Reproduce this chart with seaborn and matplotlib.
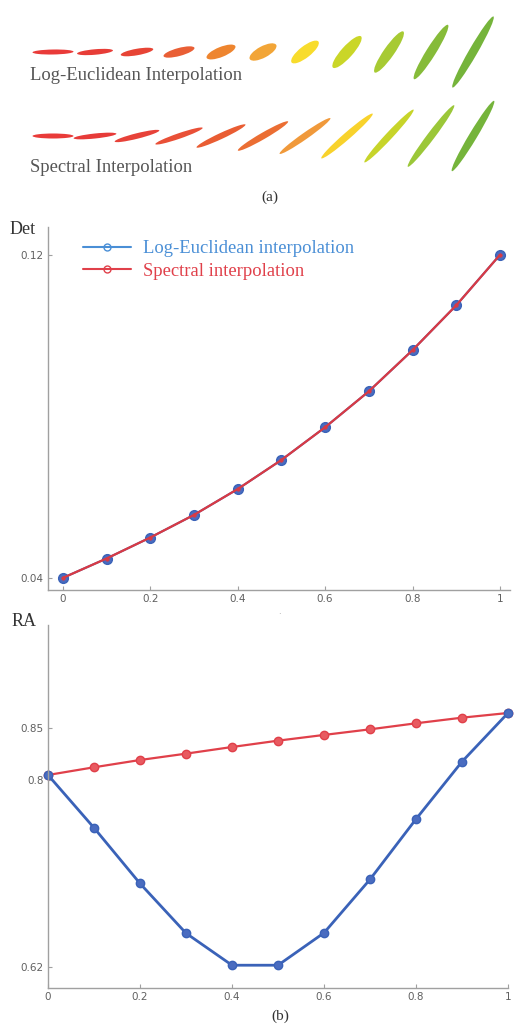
import numpy as np
import matplotlib
matplotlib.use("Agg")
import matplotlib.pyplot as plt
from matplotlib.patches import Ellipse
from matplotlib.lines import Line2D
import seaborn as sns

# ---------------- data ----------------
t = [0.0, 0.1, 0.2, 0.3, 0.4, 0.5, 0.6, 0.7, 0.8, 0.9, 1.0]

det_log_euclidean = [0.0400, 0.0448, 0.0500, 0.0556, 0.0620, 0.0692, 0.0773, 0.0862, 0.0964, 0.1075, 0.1200]
det_spectral      = [0.0400, 0.0448, 0.0500, 0.0556, 0.0620, 0.0692, 0.0773, 0.0862, 0.0964, 0.1075, 0.1200]

ra_log_euclidean = [0.8048, 0.7540, 0.7005, 0.6527, 0.6219, 0.6219, 0.6530, 0.7044, 0.7624, 0.8176, 0.8644]
ra_spectral      = [0.8048, 0.8122, 0.8192, 0.8253, 0.8317, 0.8378, 0.8433, 0.8487, 0.8545, 0.8599, 0.8644]

# ellipse glyphs (major / minor axis lengths, orientation in degrees)
le_major = [41, 36, 33, 32, 31, 30, 34, 42, 50, 64, 82]
le_minor = [5, 5.5, 6.5, 8, 10, 11.5, 11.5, 11.5, 10.5, 9.5, 8.5]
le_angle = [1, 5, 10, 15, 22, 28, 38, 48, 55, 58, 60]
le_colors = ['#e8302e', '#e6322c', '#e63a2a', '#e8562a', '#ee7e24', '#f2a02c',
             '#f8da20', '#c8d41c', '#a2c828', '#80b82e', '#6eb030']

sp_major = [41, 43, 46, 50, 54, 58, 62, 68, 72, 77, 82]
sp_minor = [5, 5, 5.5, 5.5, 6, 6.5, 6.5, 7, 7, 7.5, 8]
sp_angle = [0, 6, 14, 19, 25, 30, 35, 41, 47, 53, 59]
sp_colors = ['#e8302e', '#e6302e', '#e6382e', '#e8462c', '#e85428', '#ea6628',
             '#f09430', '#f8d020', '#c4d21e', '#96c42e', '#6eb030']

row_labels = ["Log-Euclidean Interpolation", "Spectral Interpolation"]
legend_labels = ["Log-Euclidean interpolation", "Spectral interpolation"]
x_ticks = [0, 0.2, 0.4, 0.6, 0.8, 1]
x_tick_labels = ["0", "0.2", "0.4", "0.6", "0.8", "1"]
det_ticks = [0.04, 0.12]
det_tick_labels = ["0.04", "0.12"]
ra_ticks = [0.62, 0.8, 0.85]
ra_tick_labels = ["0.62", "0.8", "0.85"]

# ---------------- style ----------------
sns.set_style("white")
plt.rcParams['font.family'] = ['DejaVu Sans']
SERIF = ['Liberation Serif', 'DejaVu Serif']

W, H = 514, 1025
fig = plt.figure(figsize=(W / 100, H / 100), dpi=100)

def fy(px):
    return 1 - px / H

# ---------------- panel (a): ellipses ----------------
top_h = 185
ax_e = fig.add_axes([0, fy(top_h), 1, top_h / H])
ppu = 420.0           # pixels per unit of t
x0_px = 53.0
ax_e.set_xlim(-x0_px / ppu, (W - x0_px) / ppu)
ax_e.set_ylim(0, top_h / ppu)
ax_e.axis('off')
row_y = [(top_h - 52) / ppu, (top_h - 136) / ppu]
for ry, majors, minors, angles, cols in [
        (row_y[0], le_major, le_minor, le_angle, le_colors),
        (row_y[1], sp_major, sp_minor, sp_angle, sp_colors)]:
    for ti, a, b, ang, c in zip(t, majors, minors, angles, cols):
        ax_e.add_patch(Ellipse((ti, ry), a / ppu, b / ppu, angle=ang,
                               facecolor=c, edgecolor='none', alpha=0.95))

fig.text(30 / W, fy(75), row_labels[0], family=SERIF, fontsize=13.4,
         color='#555555', ha='left', va='center')
fig.text(30 / W, fy(168), row_labels[1], family=SERIF, fontsize=13.4,
         color='#555555', ha='left', va='center')
fig.text(270 / W, fy(197), "(a)", family=SERIF, fontsize=11,
         color='#333333', ha='center', va='center')

# ---------------- panel (b) ----------------
BLUE = '#3a62b8'
BLUE_L = '#4a8fd6'
RED = '#d93a44'
RED_L = '#e0404a'
SPINE = '#a0a0a0'
TICKC = '#606060'

def style_axes(ax):
    for s in ['top', 'right']:
        ax.spines[s].set_visible(False)
    for s in ['left', 'bottom']:
        ax.spines[s].set_color(SPINE)
        ax.spines[s].set_linewidth(1.0)
    ax.tick_params(direction='in', length=3, width=0.8, color=SPINE,
                   labelsize=7.5, labelcolor=TICKC, pad=3,
                   left=True, bottom=True)

# Det axes
ax_d = fig.add_axes([48 / W, fy(590), (510 - 48) / W, (590 - 227) / H])
sns.lineplot(x=t, y=det_log_euclidean, ax=ax_d, color=BLUE, linewidth=1.5,
             marker='o', markersize=7, markerfacecolor='#4a6cc0',
             markeredgecolor=BLUE, markeredgewidth=1.0)
sns.lineplot(x=t, y=det_spectral, ax=ax_d, color=RED, linewidth=1.6,
             marker='o', markersize=2.5, markerfacecolor=RED,
             markeredgecolor=RED, markeredgewidth=0.5)
ax_d.set_xlim(-0.034, 1.023)
ax_d.set_ylim(0.037, 0.1269)
ax_d.set_xticks(x_ticks)
ax_d.set_xticklabels(x_tick_labels)
ax_d.set_yticks(det_ticks)
ax_d.set_yticklabels(det_tick_labels)
style_axes(ax_d)
ax_d.set_xlabel('.', fontsize=6, color='#999999', labelpad=2)
ax_d.set_ylabel('')
fig.text(10 / W, fy(229), "Det", family=SERIF, fontsize=13,
         color='#333333', ha='left', va='center')

handles = [Line2D([], [], color=BLUE_L, linewidth=1.5, marker='o',
                  markersize=5, markerfacecolor='none', markeredgecolor=BLUE_L),
           Line2D([], [], color=RED_L, linewidth=1.5, marker='o',
                  markersize=5, markerfacecolor='none', markeredgecolor=RED_L)]
ax_d.legend(handles, legend_labels, loc='upper left',
            bbox_to_anchor=(83 / W, fy(240)), bbox_transform=fig.transFigure,
            frameon=False, prop={'family': SERIF, 'size': 13.4},
            handlelength=2.6, handletextpad=0.6, borderpad=0,
            borderaxespad=0, labelspacing=0.3,
            labelcolor=[BLUE_L, RED_L])

# RA axes
ax_r = fig.add_axes([48 / W, fy(988), (508 - 48) / W, (988 - 625) / H])
sns.lineplot(x=t, y=ra_spectral, ax=ax_r, color=RED_L, linewidth=1.6,
             marker='o', markersize=6, markerfacecolor='#e85a60',
             markeredgecolor=RED_L, markeredgewidth=1.0)
sns.lineplot(x=t, y=ra_log_euclidean, ax=ax_r, color=BLUE, linewidth=2.0,
             marker='o', markersize=6, markerfacecolor='#4a6cc0',
             markeredgecolor=BLUE, markeredgewidth=1.0)
ax_r.set_xlim(0, 1)
ax_r.set_ylim(0.60, 0.949)
ax_r.set_xticks(x_ticks)
ax_r.set_xticklabels(x_tick_labels)
ax_r.set_yticks(ra_ticks)
ax_r.set_yticklabels(ra_tick_labels)
style_axes(ax_r)
for ln in ax_r.lines:
    ln.set_clip_on(False)
ax_r.set_xlabel('')
ax_r.set_ylabel('')
fig.text(12 / W, fy(622), "RA", family=SERIF, fontsize=13,
         color='#333333', ha='left', va='center')
fig.text(280 / W, fy(1016), "(b)", family=SERIF, fontsize=11,
         color='#333333', ha='center', va='center')

fig.savefig("out.png", dpi=100)
